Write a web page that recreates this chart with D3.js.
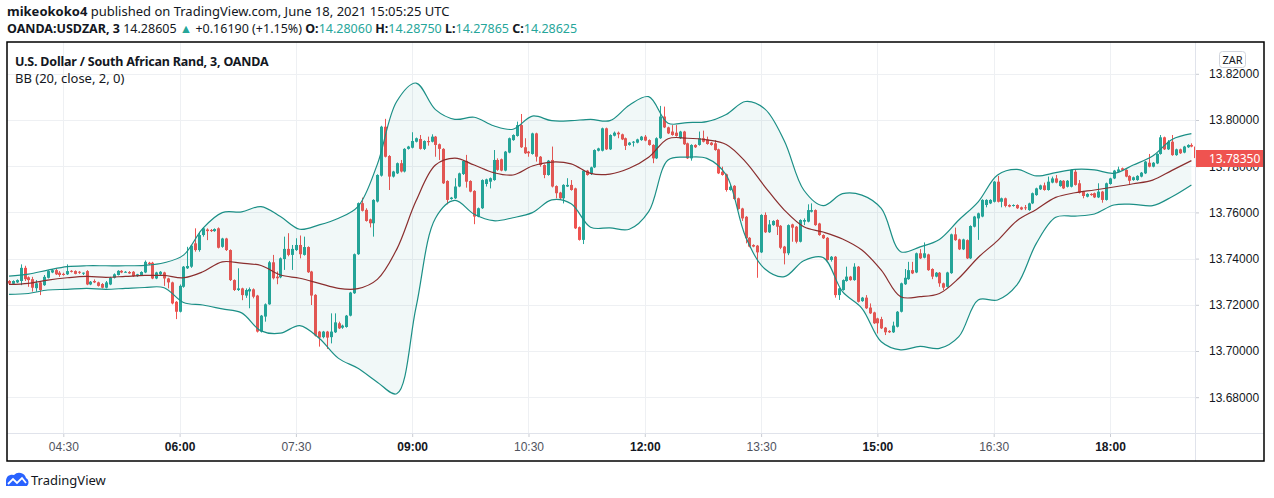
<!DOCTYPE html>
<html>
<head>
<meta charset="utf-8">
<title>USDZAR 3m</title>
<script src="https://cdn.jsdelivr.net/npm/d3@7"></script>
<style>
  body { margin: 0; background: #fff; }
  svg { display: block; font-family: "Noto Sans", "Open Sans", sans-serif; }
  .axis text { fill: #131722; font-size: 12px; }
  .axis .domain { display: none; }
  .axis line { stroke: #c9ccd3; }
</style>
</head>
<body>
<script>
var width = 1274, height = 498;

// 3 minute bars, first one at 03:48 UTC
var firstBar = Date.UTC(2021, 5, 18, 3, 48);
var barMinutes = 3;

var opens = [13.7303,13.7291,13.7297,13.7303,13.7360,13.7319,13.7311,13.7272,13.7297,13.7285,
13.7317,13.7340,13.7350,13.7339,13.7334,13.7332,13.7347,13.7346,13.7343,13.7336,
13.7346,13.7288,13.7303,13.7297,13.7290,13.7274,13.7288,13.7317,13.7329,13.7347,
13.7340,13.7342,13.7343,13.7324,13.7329,13.7340,13.7382,13.7382,13.7314,13.7332,
13.7340,13.7314,13.7297,13.7213,13.7170,13.7278,13.7358,13.7365,13.7466,13.7437,
13.7502,13.7526,13.7524,13.7519,13.7531,13.7451,13.7487,13.7437,13.7307,13.7264,
13.7271,13.7240,13.7258,13.7267,13.7240,13.7084,13.7149,13.7202,13.7384,13.7322,
13.7319,13.7398,13.7442,13.7416,13.7437,13.7459,13.7416,13.7450,13.7344,13.7243,
13.7084,13.7060,13.7084,13.7060,13.7081,13.7120,13.7101,13.7104,13.7153,13.7250,
13.7419,13.7640,13.7611,13.7570,13.7553,13.7647,13.7759,13.7971,13.7844,13.7755,
13.7769,13.7813,13.7777,13.7875,13.7880,13.7906,13.7918,13.7875,13.7909,13.7906,
13.7928,13.7895,13.7875,13.7736,13.7658,13.7661,13.7712,13.7766,13.7823,13.7736,
13.7693,13.7582,13.7618,13.7723,13.7733,13.7740,13.7827,13.7830,13.7781,13.7859,
13.7913,13.7931,13.7978,13.7882,13.7863,13.7853,13.7942,13.7841,13.7805,13.7762,
13.7827,13.7714,13.7686,13.7661,13.7712,13.7719,13.7704,13.7536,13.7481,13.7781,
13.7766,13.7795,13.7867,13.7867,13.7964,13.7873,13.7932,13.7945,13.7938,13.7921,
13.7892,13.7902,13.7902,13.7913,13.7928,13.7913,13.7892,13.7834,13.7921,13.8015,
13.7968,13.7950,13.7945,13.7921,13.7950,13.7899,13.7834,13.7892,13.7892,13.7921,
13.7916,13.7902,13.7899,13.7873,13.7776,13.7765,13.7697,13.7715,13.7661,13.7617,
13.7581,13.7490,13.7459,13.7456,13.7427,13.7589,13.7514,13.7545,13.7567,13.7542,
13.7452,13.7423,13.7548,13.7538,13.7473,13.7560,13.7560,13.7603,13.7610,13.7552,
13.7502,13.7490,13.7394,13.7408,13.7242,13.7264,13.7303,13.7322,13.7307,13.7365,
13.7216,13.7231,13.7188,13.7167,13.7141,13.7138,13.7101,13.7087,13.7081,13.7105,
13.7170,13.7289,13.7311,13.7350,13.7340,13.7423,13.7404,13.7418,13.7355,13.7322,
13.7339,13.7293,13.7278,13.7337,13.7505,13.7483,13.7440,13.7480,13.7401,13.7538,
13.7574,13.7582,13.7632,13.7639,13.7646,13.7733,13.7646,13.7661,13.7632,13.7628,
13.7632,13.7622,13.7622,13.7610,13.7639,13.7675,13.7700,13.7717,13.7697,13.7729,
13.7747,13.7714,13.7737,13.7711,13.7711,13.7776,13.7726,13.7690,13.7668,13.7680,
13.7683,13.7665,13.7690,13.7654,13.7723,13.7747,13.7776,13.7791,13.7784,13.7758,
13.7740,13.7740,13.7755,13.7769,13.7815,13.7798,13.7812,13.7853,13.7925,13.7873,
13.7906,13.7848,13.7873,13.7859,13.7882,13.7892,13.7885];

var highs = [13.7307,13.7306,13.7310,13.7375,13.7369,13.7323,13.7321,13.7307,13.7303,13.7329,
13.7350,13.7355,13.7355,13.7346,13.7339,13.7375,13.7350,13.7349,13.7346,13.7340,
13.7350,13.7303,13.7310,13.7300,13.7294,13.7303,13.7321,13.7336,13.7350,13.7350,
13.7346,13.7346,13.7346,13.7334,13.7345,13.7392,13.7386,13.7386,13.7343,13.7346,
13.7343,13.7317,13.7300,13.7216,13.7288,13.7368,13.7451,13.7459,13.7531,13.7516,
13.7535,13.7531,13.7528,13.7531,13.7535,13.7490,13.7490,13.7440,13.7310,13.7358,
13.7274,13.7271,13.7275,13.7271,13.7243,13.7156,13.7206,13.7390,13.7416,13.7344,
13.7405,13.7495,13.7510,13.7459,13.7488,13.7500,13.7495,13.7453,13.7347,13.7246,
13.7087,13.7087,13.7087,13.7163,13.7163,13.7127,13.7114,13.7156,13.7256,13.7422,
13.7643,13.7664,13.7618,13.7573,13.7657,13.7765,13.7975,13.8005,13.7848,13.7780,
13.7816,13.7827,13.7878,13.7888,13.7947,13.7924,13.7935,13.7912,13.7928,13.7938,
13.7931,13.7898,13.7878,13.7739,13.7667,13.7748,13.7772,13.7826,13.7849,13.7739,
13.7696,13.7621,13.7743,13.7746,13.7751,13.7870,13.7834,13.7833,13.7866,13.7924,
13.7938,13.7993,13.8026,13.7921,13.7866,13.7945,13.7945,13.7844,13.7808,13.7827,
13.7885,13.7717,13.7689,13.7722,13.7748,13.7740,13.7707,13.7539,13.7784,13.7784,
13.7798,13.7873,13.7880,13.7967,13.7967,13.7938,13.7950,13.7950,13.7941,13.7924,
13.7905,13.7909,13.7919,13.7931,13.7935,13.7916,13.7895,13.7925,13.8061,13.8058,
13.7971,13.7978,13.7978,13.7953,13.7953,13.7902,13.7895,13.7895,13.7950,13.7954,
13.7928,13.7905,13.7913,13.7876,13.7798,13.7768,13.7718,13.7718,13.7664,13.7620,
13.7584,13.7493,13.7462,13.7459,13.7592,13.7600,13.7567,13.7566,13.7570,13.7545,
13.7455,13.7548,13.7551,13.7541,13.7570,13.7574,13.7635,13.7639,13.7613,13.7555,
13.7505,13.7493,13.7411,13.7411,13.7274,13.7310,13.7365,13.7325,13.7380,13.7368,
13.7234,13.7242,13.7206,13.7170,13.7144,13.7148,13.7104,13.7090,13.7127,13.7173,
13.7296,13.7355,13.7386,13.7386,13.7426,13.7441,13.7470,13.7421,13.7358,13.7342,
13.7342,13.7296,13.7343,13.7508,13.7534,13.7486,13.7486,13.7483,13.7544,13.7585,
13.7599,13.7657,13.7657,13.7657,13.7736,13.7758,13.7664,13.7664,13.7635,13.7635,
13.7635,13.7625,13.7632,13.7642,13.7686,13.7707,13.7720,13.7729,13.7755,13.7755,
13.7762,13.7740,13.7740,13.7740,13.7786,13.7784,13.7740,13.7693,13.7683,13.7683,
13.7686,13.7726,13.7693,13.7729,13.7750,13.7784,13.7798,13.7794,13.7787,13.7761,
13.7755,13.7761,13.7775,13.7823,13.7853,13.7818,13.7856,13.7935,13.7928,13.7913,
13.7935,13.7876,13.7876,13.7888,13.7895,13.7899,13.7888];

var lows = [13.7287,13.7288,13.7294,13.7285,13.7303,13.7278,13.7257,13.7257,13.7242,13.7282,
13.7314,13.7337,13.7329,13.7321,13.7326,13.7329,13.7340,13.7332,13.7334,13.7329,
13.7285,13.7285,13.7294,13.7279,13.7271,13.7271,13.7285,13.7314,13.7327,13.7337,
13.7339,13.7334,13.7321,13.7321,13.7327,13.7337,13.7372,13.7311,13.7311,13.7329,
13.7282,13.7271,13.7202,13.7138,13.7167,13.7274,13.7355,13.7360,13.7430,13.7430,
13.7495,13.7480,13.7515,13.7516,13.7444,13.7447,13.7433,13.7303,13.7260,13.7260,
13.7220,13.7230,13.7185,13.7228,13.7080,13.7080,13.7127,13.7200,13.7310,13.7289,
13.7315,13.7351,13.7410,13.7351,13.7433,13.7401,13.7413,13.7338,13.7199,13.7063,
13.7019,13.7055,13.7009,13.7033,13.7078,13.7095,13.7096,13.7101,13.7150,13.7247,
13.7416,13.7604,13.7560,13.7535,13.7495,13.7643,13.7755,13.7838,13.7697,13.7751,
13.7766,13.7773,13.7773,13.7872,13.7877,13.7903,13.7872,13.7870,13.7889,13.7903,
13.7841,13.7827,13.7723,13.7635,13.7655,13.7658,13.7709,13.7762,13.7707,13.7687,
13.7549,13.7579,13.7615,13.7712,13.7704,13.7737,13.7780,13.7778,13.7778,13.7856,
13.7910,13.7928,13.7879,13.7853,13.7841,13.7850,13.7820,13.7798,13.7748,13.7759,
13.7708,13.7661,13.7654,13.7639,13.7710,13.7694,13.7528,13.7478,13.7463,13.7759,
13.7762,13.7792,13.7864,13.7864,13.7870,13.7870,13.7929,13.7921,13.7913,13.7870,
13.7889,13.7885,13.7899,13.7910,13.7908,13.7889,13.7813,13.7831,13.7918,13.7965,
13.7939,13.7932,13.7928,13.7918,13.7892,13.7831,13.7824,13.7879,13.7889,13.7903,
13.7893,13.7889,13.7867,13.7766,13.7759,13.7690,13.7694,13.7655,13.7612,13.7563,
13.7466,13.7449,13.7449,13.7317,13.7424,13.7511,13.7511,13.7542,13.7502,13.7441,
13.7375,13.7415,13.7473,13.7466,13.7470,13.7545,13.7557,13.7600,13.7542,13.7499,
13.7485,13.7391,13.7387,13.7231,13.7221,13.7261,13.7300,13.7304,13.7304,13.7210,
13.7213,13.7182,13.7160,13.7117,13.7076,13.7095,13.7069,13.7078,13.7078,13.7102,
13.7167,13.7286,13.7308,13.7333,13.7337,13.7398,13.7401,13.7347,13.7311,13.7319,
13.7278,13.7264,13.7275,13.7334,13.7477,13.7437,13.7437,13.7398,13.7398,13.7535,
13.7481,13.7579,13.7622,13.7636,13.7643,13.7643,13.7622,13.7622,13.7622,13.7625,
13.7615,13.7610,13.7610,13.7607,13.7636,13.7672,13.7697,13.7694,13.7694,13.7726,
13.7726,13.7711,13.7701,13.7708,13.7708,13.7716,13.7682,13.7661,13.7665,13.7672,
13.7662,13.7662,13.7642,13.7651,13.7720,13.7744,13.7773,13.7781,13.7752,13.7723,
13.7737,13.7737,13.7752,13.7766,13.7795,13.7795,13.7809,13.7850,13.7870,13.7870,
13.7845,13.7845,13.7853,13.7856,13.7879,13.7882,13.7832];

var closes = [13.7292,13.7303,13.7307,13.7360,13.7311,13.7307,13.7274,13.7293,13.7264,13.7321,
13.7346,13.7350,13.7332,13.7329,13.7329,13.7346,13.7343,13.7334,13.7339,13.7339,
13.7288,13.7300,13.7297,13.7282,13.7274,13.7297,13.7317,13.7332,13.7347,13.7340,
13.7343,13.7336,13.7324,13.7332,13.7342,13.7386,13.7376,13.7314,13.7340,13.7343,
13.7314,13.7297,13.7206,13.7170,13.7282,13.7365,13.7368,13.7456,13.7437,13.7502,
13.7531,13.7519,13.7519,13.7528,13.7447,13.7487,13.7437,13.7307,13.7264,13.7271,
13.7242,13.7264,13.7268,13.7235,13.7084,13.7153,13.7202,13.7384,13.7315,13.7315,
13.7401,13.7442,13.7416,13.7442,13.7459,13.7419,13.7450,13.7341,13.7240,13.7067,
13.7058,13.7084,13.7058,13.7084,13.7124,13.7098,13.7110,13.7153,13.7253,13.7419,
13.7640,13.7607,13.7563,13.7553,13.7654,13.7762,13.7971,13.7841,13.7755,13.7777,
13.7813,13.7777,13.7875,13.7885,13.7909,13.7921,13.7875,13.7909,13.7904,13.7928,
13.7892,13.7875,13.7726,13.7654,13.7664,13.7712,13.7769,13.7823,13.7733,13.7690,
13.7582,13.7618,13.7740,13.7743,13.7748,13.7827,13.7784,13.7781,13.7863,13.7921,
13.7935,13.7978,13.7882,13.7856,13.7856,13.7942,13.7841,13.7805,13.7762,13.7824,
13.7712,13.7683,13.7661,13.7719,13.7719,13.7697,13.7531,13.7481,13.7781,13.7762,
13.7795,13.7870,13.7877,13.7964,13.7873,13.7935,13.7945,13.7938,13.7916,13.7888,
13.7902,13.7906,13.7916,13.7928,13.7911,13.7892,13.7834,13.7921,13.8015,13.7968,
13.7942,13.7935,13.7931,13.7950,13.7895,13.7834,13.7892,13.7882,13.7921,13.7906,
13.7896,13.7892,13.7870,13.7769,13.7762,13.7697,13.7711,13.7658,13.7615,13.7574,
13.7488,13.7452,13.7452,13.7427,13.7589,13.7514,13.7548,13.7563,13.7538,13.7447,
13.7423,13.7545,13.7534,13.7473,13.7567,13.7567,13.7610,13.7610,13.7545,13.7502,
13.7488,13.7394,13.7408,13.7242,13.7271,13.7307,13.7322,13.7307,13.7365,13.7213,
13.7231,13.7185,13.7163,13.7120,13.7120,13.7098,13.7081,13.7081,13.7110,13.7170,
13.7293,13.7317,13.7350,13.7336,13.7423,13.7401,13.7423,13.7350,13.7322,13.7339,
13.7293,13.7274,13.7340,13.7505,13.7480,13.7440,13.7483,13.7401,13.7541,13.7582,
13.7596,13.7654,13.7654,13.7654,13.7733,13.7646,13.7661,13.7628,13.7625,13.7632,
13.7618,13.7613,13.7618,13.7639,13.7683,13.7704,13.7717,13.7697,13.7733,13.7747,
13.7729,13.7737,13.7704,13.7737,13.7784,13.7719,13.7685,13.7671,13.7680,13.7675,
13.7665,13.7690,13.7654,13.7726,13.7747,13.7781,13.7786,13.7784,13.7755,13.7737,
13.7752,13.7758,13.7772,13.7820,13.7798,13.7815,13.7853,13.7925,13.7873,13.7906,
13.7848,13.7873,13.7856,13.7885,13.7892,13.7885,13.7835];

// Bollinger Bands (20, close, 2) read every 5th bar
var bbStep = 5;
var bbUpper = [13.7324,13.7333,13.7350,13.7365,13.7369,13.7369,13.7369,13.7371,13.7382,13.7415,
13.7531,13.7599,13.7602,13.7625,13.7582,13.7527,13.7546,13.7575,13.7625,13.7808,
13.8080,13.8160,13.8045,13.8003,13.8012,13.7975,13.7960,13.8017,13.7997,13.7997,
13.8003,13.7997,13.8064,13.8101,13.7986,13.7989,13.7993,13.8024,13.8080,13.8047,
13.7909,13.7697,13.7629,13.7681,13.7675,13.7617,13.7430,13.7451,13.7483,13.7567,
13.7646,13.7762,13.7786,13.7758,13.7772,13.7786,13.7784,13.7769,13.7805,13.7844,
13.7916,13.7941];
var bbBasis = [13.7288,13.7293,13.7307,13.7317,13.7323,13.7319,13.7323,13.7327,13.7327,13.7317,
13.7343,13.7386,13.7380,13.7370,13.7329,13.7315,13.7293,13.7271,13.7270,13.7310,
13.7440,13.7650,13.7805,13.7835,13.7805,13.7772,13.7762,13.7801,13.7818,13.7810,
13.7769,13.7766,13.7791,13.7839,13.7919,13.7921,13.7914,13.7894,13.7819,13.7711,
13.7610,13.7538,13.7515,13.7485,13.7437,13.7350,13.7235,13.7235,13.7249,13.7315,
13.7405,13.7478,13.7564,13.7613,13.7665,13.7685,13.7697,13.7710,13.7724,13.7740,
13.7782,13.7824];
var bbLower = [13.7245,13.7249,13.7264,13.7267,13.7271,13.7267,13.7271,13.7275,13.7274,13.7210,
13.7199,13.7182,13.7165,13.7087,13.7077,13.7110,13.7055,13.6968,13.6925,13.6865,
13.6815,13.7190,13.7575,13.7652,13.7592,13.7564,13.7577,13.7599,13.7654,13.7637,
13.7536,13.7533,13.7527,13.7603,13.7827,13.7839,13.7834,13.7762,13.7495,13.7355,
13.7322,13.7391,13.7405,13.7257,13.7185,13.7040,13.7005,13.7020,13.7011,13.7062,
13.7221,13.7221,13.7286,13.7466,13.7579,13.7584,13.7593,13.7632,13.7635,13.7629,
13.7668,13.7719];

var priceTicks = [13.68, 13.70, 13.72, 13.74, 13.76, 13.78, 13.80, 13.82];
var timeTicks = ["04:30", "06:00", "07:30", "09:00", "10:30", "12:00", "13:30", "15:00", "16:30", "18:00"];
var lastPrice = 13.7835;
var quoteLabels = ["O", "H", "L", "C"];
var quoteValues = ["14.28060", "14.28750", "14.27865", "14.28625"];

var up = "#26a69a", down = "#ef5350";

var svg = d3.select("body").append("svg")
    .attr("width", width)
    .attr("height", height);

var pane = {left: 7, right: 1195, top: 42, bottom: 433};
var frame = {left: 7, right: 1264, top: 42, bottom: 461};

function barTime(i) { return new Date(firstBar + i * barMinutes * 60000); }
function tickDate(s) {
    var p = s.split(":");
    return new Date(Date.UTC(2021, 5, 18, +p[0], +p[1]));
}

var x = d3.scaleUtc()
    .domain([new Date(Date.UTC(2021, 5, 18, 3, 46, 26)), new Date(Date.UTC(2021, 5, 18, 19, 5, 47))])
    .range([pane.left, pane.right]);
var y = d3.scaleLinear()
    .domain([13.68, 13.82])
    .range([397.2, 73.8]);

// header
var h1 = svg.append("text").attr("x", 7).attr("y", 16)
    .style("font-size", "13px").style("fill", "#131722");
h1.append("tspan").style("font-weight", "bold").text("mikeokoko4");
h1.append("tspan").text(" published on TradingView.com, June 18, 2021 15:05:25 UTC");

var h2 = svg.append("text").attr("x", 7).attr("y", 33)
    .style("font-size", "12.5px").style("fill", "#131722");
h2.append("tspan").style("font-weight", "bold").text("OANDA:USDZAR, 3");
h2.append("tspan").text("\u00a014.28605 ");
h2.append("tspan").style("fill", up).text("\u25B2");
h2.append("tspan").text(" +0.16190 (+1.15%) ");
quoteLabels.forEach(function (l, i) {
    h2.append("tspan").style("font-weight", "bold").text(l + ":");
    h2.append("tspan").style("fill", up).text(quoteValues[i] + " ");
});

// grid
var grid = svg.append("g");
grid.selectAll(".hg").data(priceTicks).enter().append("line")
    .attr("x1", pane.left).attr("x2", pane.right)
    .attr("y1", function (d) { return Math.round(y(d)) + 0.5; })
    .attr("y2", function (d) { return Math.round(y(d)) + 0.5; })
    .attr("stroke", "#eef0f3");
grid.selectAll(".vg").data(timeTicks).enter().append("line")
    .attr("y1", pane.top).attr("y2", pane.bottom)
    .attr("x1", function (d) { return Math.round(x(tickDate(d))) + 0.5; })
    .attr("x2", function (d) { return Math.round(x(tickDate(d))) + 0.5; })
    .attr("stroke", "#eef0f3");

svg.append("clipPath").attr("id", "clip").append("rect")
    .attr("x", pane.left).attr("y", pane.top)
    .attr("width", pane.right - pane.left).attr("height", pane.bottom - pane.top);

var plot = svg.append("g").attr("clip-path", "url(#clip)");

// candles
var bars = d3.range(opens.length);
function cx(i) { return Math.round(x(barTime(i))); }

plot.selectAll(".wick").data(bars).enter().append("line")
    .attr("x1", function (i) { return cx(i) + 0.5; })
    .attr("x2", function (i) { return cx(i) + 0.5; })
    .attr("y1", function (i) { return y(highs[i]); })
    .attr("y2", function (i) { return y(lows[i]); })
    .attr("stroke", function (i) { return closes[i] >= opens[i] ? up : down; });

plot.selectAll(".body").data(bars).enter().append("rect")
    .attr("x", function (i) { return cx(i) - 1; })
    .attr("width", 3)
    .attr("y", function (i) { return y(Math.max(opens[i], closes[i])); })
    .attr("height", function (i) { return Math.max(1, Math.abs(y(opens[i]) - y(closes[i]))); })
    .attr("fill", function (i) { return closes[i] >= opens[i] ? up : down; });

// bollinger bands
var bb = bbUpper.map(function (u, k) {
    return {t: barTime(k * bbStep), u: u, m: bbBasis[k], l: bbLower[k]};
});
plot.append("path").datum(bb)
    .attr("d", d3.area().curve(d3.curveCatmullRom)
        .x(function (d) { return x(d.t); })
        .y0(function (d) { return y(d.l); })
        .y1(function (d) { return y(d.u); }))
    .attr("fill", "#198787").attr("fill-opacity", 0.06);

function bandLine(key, color) {
    plot.append("path").datum(bb)
        .attr("d", d3.line().curve(d3.curveCatmullRom)
            .x(function (d) { return x(d.t); })
            .y(function (d) { return y(d[key]); }))
        .attr("fill", "none").attr("stroke", color).attr("stroke-width", 1.2);
}
bandLine("u", "#1b8f86");
bandLine("l", "#1b8f86");
bandLine("m", "#8a2e2e");

// legend
svg.append("text").attr("x", 15).attr("y", 66)
    .style("font-size", "12.5px").style("font-weight", "bold").style("letter-spacing", "-0.2px")
    .style("fill", "#131722")
    .text("U.S. Dollar / South African Rand, 3, OANDA");
svg.append("text").attr("x", 15).attr("y", 83)
    .style("font-size", "13px").style("fill", "#131722")
    .text("BB (20, close, 2, 0)");

// price axis
svg.append("g").attr("class", "axis")
    .attr("transform", "translate(" + pane.right + ",0)")
    .call(d3.axisRight(y).tickValues(priceTicks).tickFormat(d3.format(".5f"))
        .tickSize(4).tickPadding(10));

// time axis
var xAxisG = svg.append("g").attr("class", "axis")
    .attr("transform", "translate(0," + pane.bottom + ")")
    .call(d3.axisBottom(x).tickValues(timeTicks.map(tickDate)).tickFormat(d3.utcFormat("%H:%M"))
        .tickSize(4).tickPadding(5));
xAxisG.selectAll("text")
    .style("font-weight", function (d) { return d.getUTCMinutes() === 0 ? "bold" : "normal"; })
    .style("fill", function (d) { return d.getUTCMinutes() === 0 ? "#131722" : "#50535e"; });

// ZAR unit box
svg.append("rect").attr("x", 1219.5).attr("y", 51.5).attr("width", 26).attr("height", 16)
    .attr("rx", 3).attr("fill", "#fff").attr("stroke", "#d1d4dc");
svg.append("text").attr("x", 1232.5).attr("y", 63.5).attr("text-anchor", "middle")
    .style("font-size", "11px").style("fill", "#131722").text("ZAR");

// last price tag, drawn over the 13.78 label like the original
var ly = Math.round(y(lastPrice));
svg.append("rect").attr("x", pane.right + 1).attr("y", ly - 8).attr("width", 67).attr("height", 17)
    .attr("fill", down);
svg.append("text").attr("x", pane.right + 14).attr("y", ly + 4.5)
    .style("font-size", "12px").style("fill", "#fff").text(d3.format(".5f")(lastPrice));

// separators and frame
svg.append("line").attr("x1", pane.left).attr("x2", frame.right)
    .attr("y1", pane.bottom + 0.5).attr("y2", pane.bottom + 0.5).attr("stroke", "#e0e3eb");
svg.append("line").attr("x1", pane.right + 0.5).attr("x2", pane.right + 0.5)
    .attr("y1", frame.top).attr("y2", frame.bottom).attr("stroke", "#e0e3eb");
svg.append("rect").attr("x", frame.left).attr("y", frame.top)
    .attr("width", frame.right - frame.left).attr("height", frame.bottom - frame.top)
    .attr("fill", "none").attr("stroke", "#000").attr("stroke-width", 1.5);

// TradingView mark
var logo = svg.append("g").attr("transform", "translate(6,472)");
logo.append("path")
    .attr("d", "M0,14 L0,9 A6,6 0 0 1 8,3 A7,7 0 0 1 20,6 A5,5 0 0 1 21,14 Z")
    .attr("fill", "#2962ff");
logo.append("path")
    .attr("d", "M2,12 L7,7 L11,11 L16,6 L20,11")
    .attr("fill", "none").attr("stroke", "#fff").attr("stroke-width", 1.8);
svg.append("text").attr("x", 31).attr("y", 485)
    .style("font-size", "13px").style("fill", "#131722").text("TradingView");
</script>
</body>
</html>
